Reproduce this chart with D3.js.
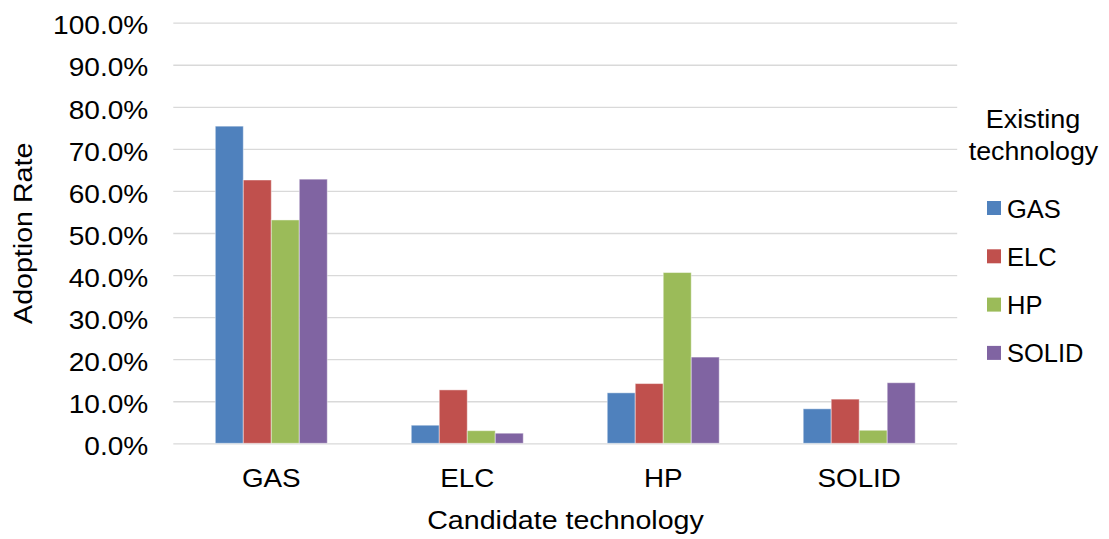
<!DOCTYPE html>
<html>
<head>
<meta charset="utf-8">
<script src="https://cdn.jsdelivr.net/npm/d3@7"></script>
<style>
  html, body { margin: 0; padding: 0; background: #fff; }
  svg { display: block; }
  text { font-family: "Liberation Sans", Arial, sans-serif; fill: #000; }
</style>
</head>
<body>
<svg id="chart" width="1109" height="539"></svg>
<script>
// Candidate technologies along the x axis
const categories = ["GAS", "ELC", "HP", "SOLID"];
// Existing technology (legend series)
const seriesNames = ["GAS", "ELC", "HP", "SOLID"];
const seriesColors = ["#4F81BD", "#C0504D", "#9BBB59", "#8064A2"];
// Adoption rate (%) per candidate technology, one array per existing technology
const existingGAS   = [75.4, 4.3, 12.0, 8.2];
const existingELC   = [62.6, 12.7, 14.2, 10.5];
const existingHP    = [53.1, 3.0, 40.6, 3.1];
const existingSOLID = [62.8, 2.4, 20.5, 14.4];
const yTicks = [0, 0.1, 0.2, 0.3, 0.4, 0.5, 0.6, 0.7, 0.8, 0.9, 1.0];

const seriesValues = [existingGAS, existingELC, existingHP, existingSOLID];
const rows = categories.map((c, i) => ({
  category: c,
  values: seriesNames.map((s, j) => ({ series: s, value: seriesValues[j][i] / 100 }))
}));

const svg = d3.select("#chart");
const plotLeft = 173.3, plotRight = 957.2, plotTop = 22.7, plotBottom = 443.3;

const x0 = d3.scaleBand().domain(categories).range([plotLeft, plotRight])
  .paddingInner(0.4286).paddingOuter(0.2143);
const x1 = d3.scaleBand().domain(seriesNames).range([0, x0.bandwidth()]).padding(0);
const y = d3.scaleLinear().domain([0, 1]).range([plotBottom, plotTop]);
const color = d3.scaleOrdinal().domain(seriesNames).range(seriesColors);

// Slightly widened text, like the original office-style rendering
function widen(sel, px, sx) {
  sel.attr("x", 0).attr("transform", `translate(${px},0) scale(${sx},1)`);
}

// Gridlines and y tick labels
const yAxis = d3.axisLeft(y).tickValues(yTicks)
  .tickSize(-(plotRight - plotLeft)).tickPadding(26)
  .tickFormat(d3.format(".1%"));
const gy = svg.append("g").attr("transform", `translate(${plotLeft},0)`).call(yAxis);
gy.select(".domain").remove();
gy.selectAll(".tick line").attr("stroke", "#d9d9d9").attr("stroke-width", 1.3);
gy.selectAll(".tick text")
  .attr("font-size", 26).attr("dy", "0.43em")
  .style("font-family", "'Liberation Sans', Arial, sans-serif")
  .call(widen, -25, 1.08);

// Bars
const groups = svg.append("g").selectAll("g").data(rows).join("g")
  .attr("transform", d => `translate(${x0(d.category)},0)`);
groups.selectAll("rect").data(d => d.values).join("rect")
  .attr("x", d => x1(d.series))
  .attr("y", d => y(d.value))
  .attr("width", x1.bandwidth())
  .attr("height", d => y(0) - y(d.value))
  .attr("fill", d => color(d.series))
  .attr("stroke", "rgba(255,255,255,0.45)")
  .attr("stroke-width", 1);

// X axis labels
const xAxis = d3.axisBottom(x0).tickSize(0).tickPadding(0);
const gx = svg.append("g").attr("transform", `translate(0,${plotBottom})`).call(xAxis);
gx.select(".domain").remove();
gx.selectAll(".tick text")
  .attr("font-size", 26).attr("y", 43.4).attr("dy", 0)
  .style("font-family", "'Liberation Sans', Arial, sans-serif")
  .call(widen, 0, 1.07);

// Axis titles
svg.append("text")
  .attr("transform", "translate(565.5,529) scale(1.1,1)")
  .attr("text-anchor", "middle").attr("font-size", 26)
  .text("Candidate technology");
svg.append("text")
  .attr("transform", "translate(32,233.3) rotate(-90) scale(1.1,1)")
  .attr("text-anchor", "middle").attr("font-size", 26)
  .text("Adoption Rate");

// Legend
const legend = svg.append("g");
legend.append("text")
  .attr("transform", "translate(1033,128) scale(1.04,1)")
  .attr("text-anchor", "middle").attr("font-size", 26)
  .text("Existing");
legend.append("text")
  .attr("transform", "translate(1033.5,160) scale(1.03,1)")
  .attr("text-anchor", "middle").attr("font-size", 26)
  .text("technology");
const items = legend.selectAll("g.item").data(seriesNames).join("g")
  .attr("class", "item")
  .attr("transform", (d, i) => `translate(987,${201 + i * 48.3})`);
items.append("rect").attr("width", 14).attr("height", 14).attr("fill", d => color(d));
items.append("text").attr("x", 20).attr("y", 16.5)
  .attr("font-size", 25.5).text(d => d);
</script>
</body>
</html>
